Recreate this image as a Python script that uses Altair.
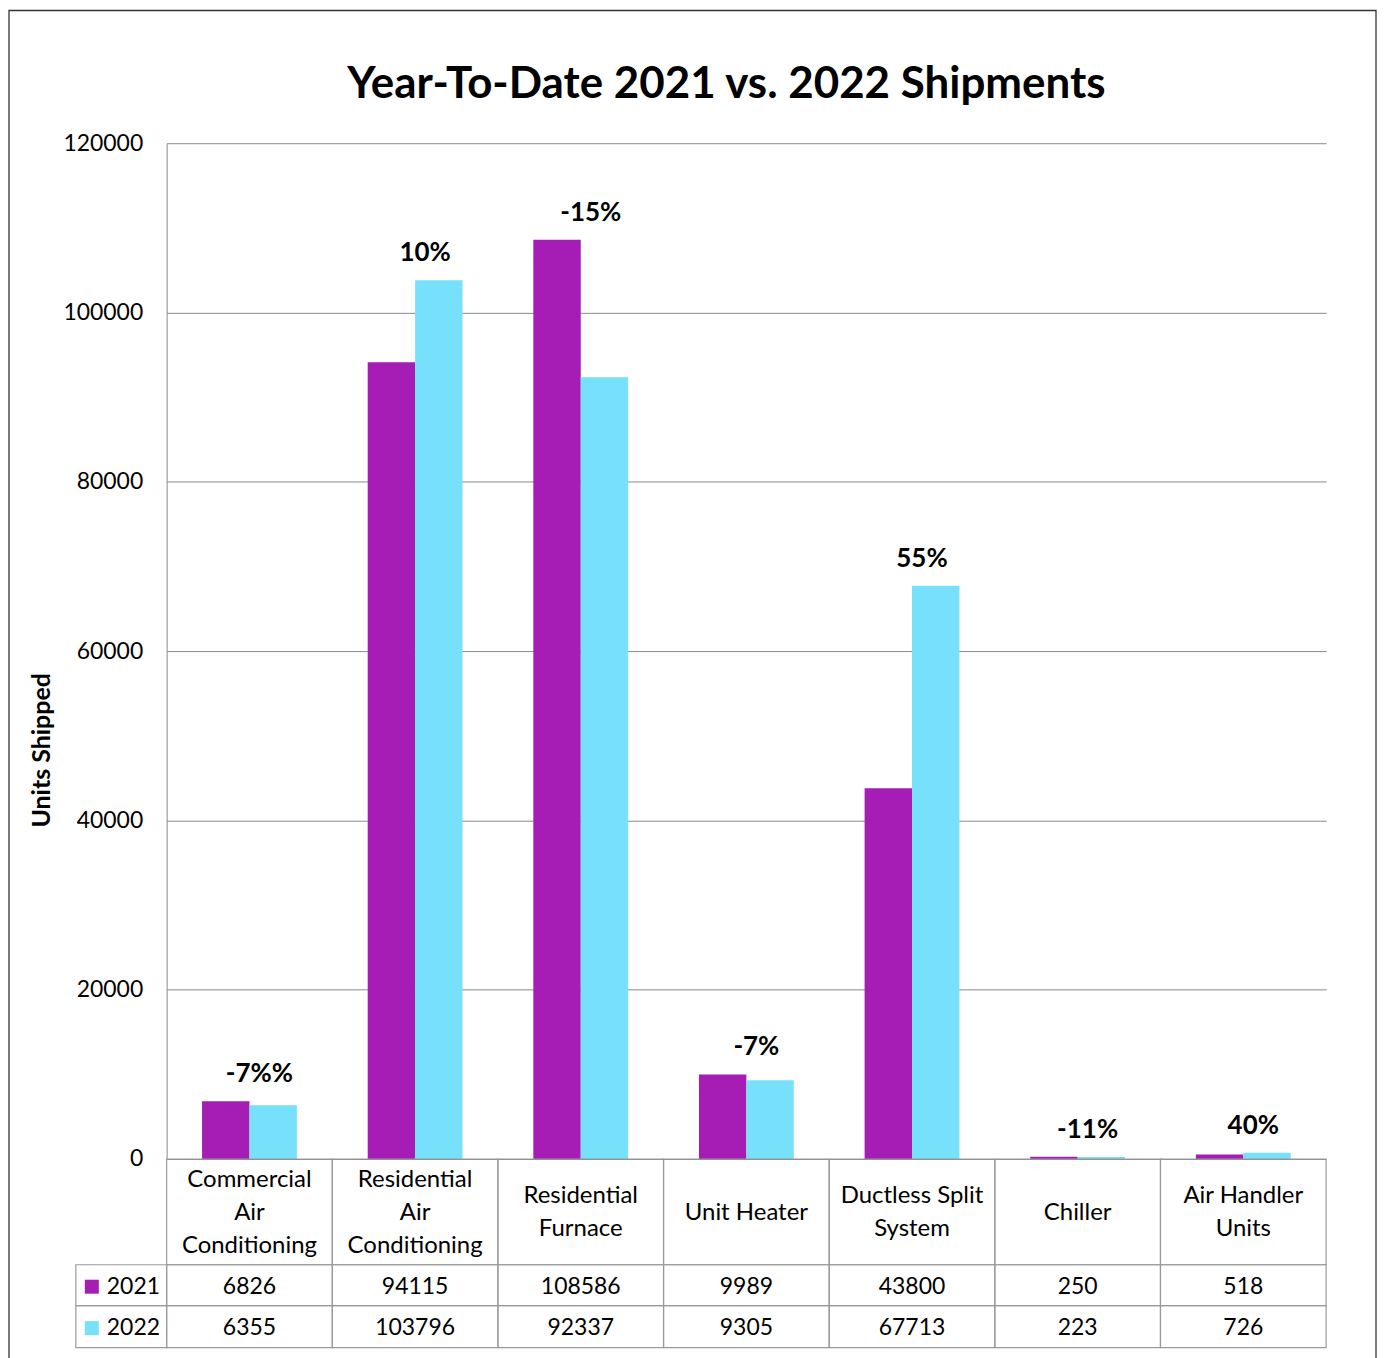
import altair as alt
import pandas as pd

# ---------------- data ----------------
title_text = "Year-To-Date 2021 vs. 2022 Shipments"
categories = [
    "Commercial Air Conditioning",
    "Residential Air Conditioning",
    "Residential Furnace",
    "Unit Heater",
    "Ductless Split System",
    "Chiller",
    "Air Handler Units",
]
header_labels = [
    "Commercial\nAir\nConditioning",
    "Residential\nAir\nConditioning",
    "Residential\nFurnace",
    "Unit Heater",
    "Ductless Split\nSystem",
    "Chiller",
    "Air Handler\nUnits",
]
series = ["2021", "2022"]
values_2021 = [6826, 94115, 108586, 9989, 43800, 250, 518]
values_2022 = [6355, 103796, 92337, 9305, 67713, 223, 726]
change_labels = ["-7%%", "10%", "-15%", "-7%", "55%", "-11%", "40%"]
y_ticks = [0, 20000, 40000, 60000, 80000, 100000, 120000]

# ---------------- style ----------------
FONT = "Lato"
COLORS = ["#A51DB5", "#77E1FB"]
GRID = "#8a8a8a"
CELL = "#9a9a9a"
LINE_H = 33

W, H = 1162, 1018

long_df = pd.DataFrame(
    [{"category": c, "series": s, "value": v}
     for s, vals in zip(series, [values_2021, values_2022])
     for c, v in zip(categories, vals)]
)
cat_df = pd.DataFrame({"category": categories, "header": header_labels})
cat_df["nlines"] = cat_df["header"].str.count("\n") + 1
# change labels sit above the taller bar of each pair
label_df = pd.DataFrame({
    "category": categories,
    "top": [max(a, b) for a, b in zip(values_2021, values_2022)],
    "label": change_labels,
})
frame_df = pd.DataFrame({"title": [title_text]})

x_enc = alt.X("category:N", sort=categories,
              scale=alt.Scale(domain=categories, paddingInner=0, paddingOuter=0),
              axis=None)
color_enc = alt.Color("series:N", scale=alt.Scale(domain=series, range=COLORS), legend=None)

# outer chart-area border
frame = alt.Chart(frame_df).mark_rect(fillOpacity=0, stroke="#333333", strokeWidth=1.3).encode(
    x=alt.value(-158), x2=alt.value(1212), y=alt.value(-133), y2=alt.value(1235)
)

title = alt.Chart(frame_df).mark_text(
    font=FONT, fontSize=44, fontWeight="bold", color="#000000",
    align="center", baseline="alphabetic"
).encode(x=alt.value(W / 2 - 20), y=alt.value(-45), text="title:N")

bars = alt.Chart(long_df).mark_bar().encode(
    x=x_enc,
    xOffset=alt.XOffset("series:N", sort=series,
                        scale=alt.Scale(domain=series, paddingInner=0, paddingOuter=0.747)),
    y=alt.Y("value:Q",
            scale=alt.Scale(domain=[0, 120000], nice=False, zero=True),
            axis=alt.Axis(values=y_ticks, format="d", title="Units Shipped",
                          grid=True, gridColor=GRID, gridWidth=1,
                          domain=True, domainColor=GRID, domainWidth=1,
                          ticks=False, labelPadding=24, labelFontSize=23,
                          labelFont=FONT, labelColor="#000000",
                          titleFont=FONT, titleFontSize=25, titleFontWeight="bold",
                          titleColor="#000000", titleX=-125, titleY=608,
                          titleBaseline="middle", titleAngle=270)),
    color=color_enc,
)

labels = alt.Chart(label_df).mark_text(
    font=FONT, fontSize=26, fontWeight="bold", color="#000000",
    baseline="alphabetic", align="center", dx=10, dy=-19
).encode(x=x_enc, y=alt.Y("top:Q"), text="label:N")

# ---------------- data table ----------------
HEAD_TOP, HEAD_BOT = H, H + 106
HEAD_MID = (HEAD_TOP + HEAD_BOT) / 2 + 1
rows = {"2021": (H + 106, H + 147), "2022": (H + 147, H + 189)}

head_cells = alt.Chart(cat_df).mark_rect(fillOpacity=0, stroke=CELL, strokeWidth=1.2).encode(
    x=x_enc, y=alt.value(HEAD_TOP), y2=alt.value(HEAD_BOT)
)

layers = [frame, title, bars, labels, head_cells]

# header labels: one layer per line count so each block is centred vertically
for n in sorted(cat_df["nlines"].unique()):
    layers.append(
        alt.Chart(cat_df).transform_filter(alt.datum.nlines == int(n)).mark_text(
            font=FONT, fontSize=24, color="#000000", lineBreak="\n", lineHeight=LINE_H,
            baseline="middle", align="center"
        ).encode(x=x_enc, y=alt.value(HEAD_MID - (int(n) - 1) * LINE_H / 2), text="header:N")
    )

for s in series:
    top, bot = rows[s]
    mid = (top + bot) / 2 + 1.5
    sdf = long_df[long_df["series"] == s]
    leg_df = pd.DataFrame({"series": [s]})
    layers.append(
        alt.Chart(sdf).mark_rect(fillOpacity=0, stroke=CELL, strokeWidth=1.2).encode(
            x=x_enc, y=alt.value(top), y2=alt.value(bot))
    )
    layers.append(
        alt.Chart(leg_df).mark_rect(fillOpacity=0, stroke=CELL, strokeWidth=1.2).encode(
            x=alt.value(-91), x2=alt.value(0), y=alt.value(top), y2=alt.value(bot))
    )
    layers.append(
        alt.Chart(sdf).mark_text(font=FONT, fontSize=23, color="#000000",
                                 baseline="middle", align="center").encode(
            x=x_enc, y=alt.value(mid), text=alt.Text("value:Q", format="d"))
    )
    layers.append(
        alt.Chart(leg_df).mark_square(size=196, opacity=1).encode(
            x=alt.value(-75), y=alt.value(mid), color=color_enc)
    )
    layers.append(
        alt.Chart(leg_df).mark_text(font=FONT, fontSize=23, color="#000000",
                                    baseline="middle", align="left").encode(
            x=alt.value(-60), y=alt.value(mid), text="series:N")
    )

chart = alt.layer(*layers).properties(
    width=W, height=H, padding=0, background="white",
).configure_view(strokeWidth=0, strokeOpacity=0)

chart.save("out.html", embed_options={"renderer": "svg", "actions": False})
